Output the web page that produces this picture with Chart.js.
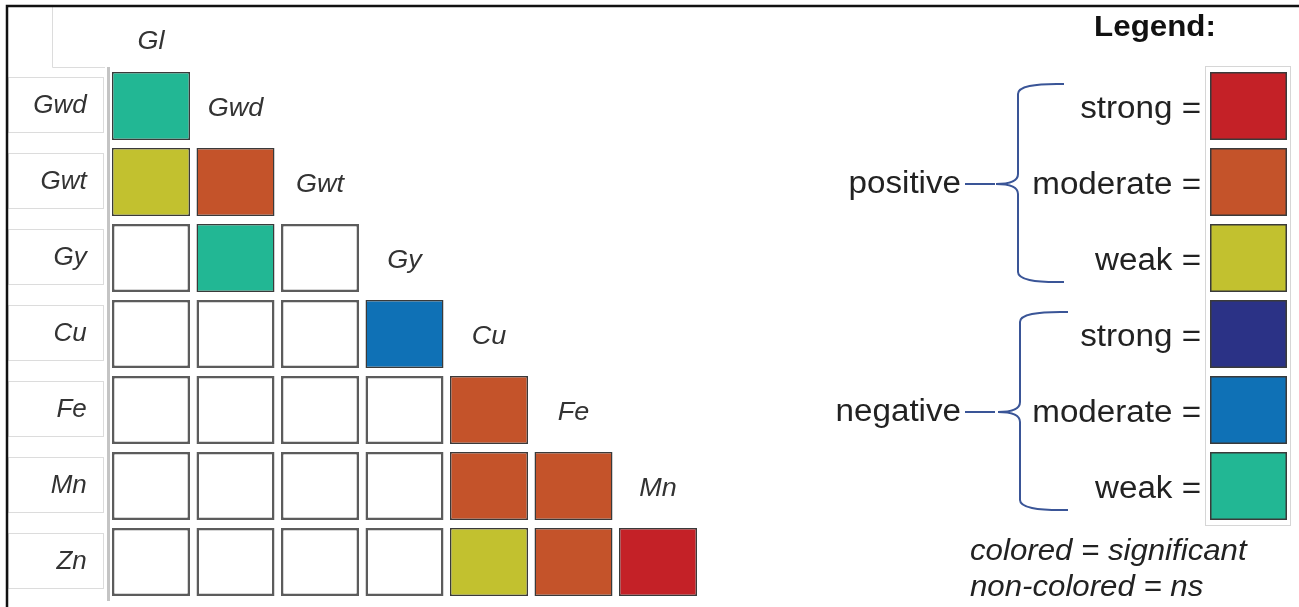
<!DOCTYPE html>
<html lang="en">
<head>
  <meta charset="UTF-8">
  <title>Correlation matrix</title>
  <script src="https://cdn.jsdelivr.net/npm/chart.js"></script>
  <style>
    body {
      margin: 0;
      background: #fff;
    }
    .wrap {
      position: relative;
      width: 1299px;
      height: 607px;
    }
  </style>
</head>
<body>
  <div class="wrap">
    <canvas id="matrixChart"></canvas>
  </div>

  <script>
    // Variables (columns) and rows of the lower-triangular matrix
    const colNames = ['Gl', 'Gwd', 'Gwt', 'Gy', 'Cu', 'Fe', 'Mn'];
    const rowNames = ['Gwd', 'Gwt', 'Gy', 'Cu', 'Fe', 'Mn', 'Zn'];

    // codes: 3 strong +, 2 moderate +, 1 weak +, -1 weak -, -2 moderate -, -3 strong -, 0 ns
    const gwdRow = [-1];
    const gwtRow = [1, 2];
    const gyRow = [0, -1, 0];
    const cuRow = [0, 0, 0, -2];
    const feRow = [0, 0, 0, 0, 2];
    const mnRow = [0, 0, 0, 0, 2, 2];
    const znRow = [0, 0, 0, 0, 1, 2, 3];
    const matrixRows = [gwdRow, gwtRow, gyRow, cuRow, feRow, mnRow, znRow];

    // legend entries
    const legendCodes = [3, 2, 1, -3, -2, -1];
    const legendNames = ['strong', 'moderate', 'weak', 'strong', 'moderate', 'weak'];
    const groupNames = ['positive', 'negative'];
    const noteLines = ['colored = significant', 'non-colored = ns'];

    const codeColors = {
      '3': '#C42127',
      '2': '#C4532A',
      '1': '#C2C12F',
      '0': '#FFFFFF',
      '-1': '#22B794',
      '-2': '#0F71B6',
      '-3': '#2B3286'
    };

    const FONT = '"Liberation Sans", Arial, sans-serif';
    const HALF = 0.447; // half cell height in row units

    // one dataset per row, floating bars from row index
    const datasets = rowNames.map((name, i) => {
      const row = matrixRows[i];
      return {
        label: name,
        data: colNames.map((c, j) => j < row.length ? [i - HALF, i + HALF] : null),
        backgroundColor: colNames.map((c, j) => j < row.length ? codeColors[String(row[j])] : 'transparent'),
        borderColor: colNames.map((c, j) => (j < row.length && row[j] !== 0) ? '#3a3a3a' : '#5c5c5c'),
        borderWidth: colNames.map((c, j) => (j < row.length && row[j] !== 0) ? 1.5 : 2.5),
        borderSkipped: false,
        grouped: false,
        categoryPercentage: 1,
        barPercentage: 0.923
      };
    });

    function stretchText(ctx, text, x, y, sx) {
      ctx.save();
      ctx.translate(x, y);
      ctx.scale(sx, 1);
      ctx.fillText(text, 0, 0);
      ctx.restore();
    }

    const framePlugin = {
      id: 'frame',
      beforeDraw(chart) {
        const ctx = chart.ctx;
        const yS = chart.scales.y;
        ctx.save();
        ctx.fillStyle = '#fff';
        ctx.fillRect(0, 0, chart.width, chart.height);

        // light boxes around the row labels
        ctx.strokeStyle = '#dcdcdc';
        ctx.lineWidth = 1;
        rowNames.forEach((n, i) => {
          const cy = yS.getPixelForValue(i);
          ctx.strokeRect(8.5, cy - 28.5, 95, 55);
        });
        // little box at top-left
        ctx.beginPath();
        ctx.moveTo(52.5, 7);
        ctx.lineTo(52.5, 67.5);
        ctx.lineTo(105, 67.5);
        ctx.stroke();

        // black frame top and left
        ctx.strokeStyle = '#111';
        ctx.lineWidth = 2.5;
        ctx.beginPath();
        ctx.moveTo(7, chart.height);
        ctx.lineTo(7, 6);
        ctx.lineTo(chart.width, 6);
        ctx.stroke();
        ctx.restore();
      },
      afterDraw(chart) {
        const ctx = chart.ctx;
        const xS = chart.scales.x;
        const yS = chart.scales.y;
        ctx.save();

        // column labels along the diagonal
        ctx.fillStyle = '#333';
        ctx.font = 'italic 25px ' + FONT;
        ctx.textAlign = 'center';
        ctx.textBaseline = 'middle';
        colNames.forEach((name, j) => {
          const x = xS.getPixelForValue(j);
          const y = j === 0 ? yS.getPixelForValue(-0.5) - 26 : yS.getPixelForValue(j - 1) + 3;
          stretchText(ctx, name, x, y, 1.08);
        });

        // legend title
        ctx.fillStyle = '#111';
        ctx.font = 'bold 29px ' + FONT;
        ctx.textAlign = 'center';
        stretchText(ctx, 'Legend:', 1155, 28, 1.08);

        // swatch column outline
        ctx.strokeStyle = '#d6d6d6';
        ctx.lineWidth = 1;
        ctx.strokeRect(1205.5, yS.getPixelForValue(0) - 39.5, 85, yS.getPixelForValue(5) - yS.getPixelForValue(0) + 79);

        legendCodes.forEach((code, k) => {
          const cy = yS.getPixelForValue(k);
          ctx.fillStyle = codeColors[String(code)];
          ctx.fillRect(1210, cy - 34, 77, 68);
          ctx.strokeStyle = '#3a3a3a';
          ctx.lineWidth = 1.5;
          ctx.strokeRect(1210.75, cy - 33.25, 75.5, 66.5);

          ctx.fillStyle = '#222';
          ctx.font = '31px ' + FONT;
          ctx.textAlign = 'right';
          ctx.textBaseline = 'middle';
          stretchText(ctx, legendNames[k] + ' =', 1201, cy + 3, 1.07);
        });

        // group labels with braces
        groupNames.forEach((g, gi) => {
          const yTop = yS.getPixelForValue(gi * 3) - 22;
          const yBot = yS.getPixelForValue(gi * 3 + 2) + 24;
          const yMid = yS.getPixelForValue(gi * 3 + 1) + 2;
          const xv = 1018 + gi * 2;
          const xArm = 1064 + gi * 4;

          ctx.fillStyle = '#222';
          ctx.font = '31px ' + FONT;
          ctx.textAlign = 'right';
          ctx.textBaseline = 'middle';
          stretchText(ctx, g, 961, yMid, 1.07);

          ctx.strokeStyle = '#3a5597';
          ctx.lineWidth = 2;
          ctx.beginPath();
          ctx.moveTo(965, yMid);
          ctx.lineTo(995, yMid);
          ctx.stroke();

          ctx.beginPath();
          ctx.moveTo(xArm, yTop);
          ctx.quadraticCurveTo(xv, yTop - 1, xv, yTop + 10);
          ctx.lineTo(xv, yMid - 10);
          ctx.quadraticCurveTo(xv, yMid, xv - 22, yMid);
          ctx.quadraticCurveTo(xv, yMid, xv, yMid + 10);
          ctx.lineTo(xv, yBot - 10);
          ctx.quadraticCurveTo(xv, yBot + 1, xArm, yBot);
          ctx.stroke();
        });

        // notes
        ctx.fillStyle = '#222';
        ctx.font = 'italic 30px ' + FONT;
        ctx.textAlign = 'left';
        ctx.textBaseline = 'middle';
        noteLines.forEach((t, i) => {
          stretchText(ctx, t, 970, 552 + i * 36, 1.04);
        });

        ctx.restore();
      }
    };

    new Chart(document.getElementById('matrixChart'), {
      type: 'bar',
      data: {
        labels: colNames,
        datasets: datasets
      },
      options: {
        responsive: true,
        maintainAspectRatio: false,
        animation: false,
        layout: {
          padding: { top: 68, bottom: 7, left: 8, right: 598.75 }
        },
        plugins: {
          legend: { display: false },
          tooltip: { enabled: false }
        },
        scales: {
          x: {
            type: 'category',
            display: false
          },
          y: {
            type: 'linear',
            reverse: true,
            min: -0.5,
            max: 6.5,
            afterBuildTicks: s => { s.ticks = rowNames.map((n, i) => ({ value: i })); },
            afterFit: s => {
              s.width = 100.75;
              s.paddingTop = 0;
              s.paddingBottom = 0;
            },
            grid: { display: false, drawTicks: false },
            border: { display: true, color: '#c4c4c4', width: 3 },
            ticks: {
              padding: 22,
              color: '#333',
              font: { family: FONT, size: 26, style: 'italic' },
              callback: v => rowNames[v]
            }
          }
        }
      },
      plugins: [framePlugin]
    });
  </script>
</body>
</html>
